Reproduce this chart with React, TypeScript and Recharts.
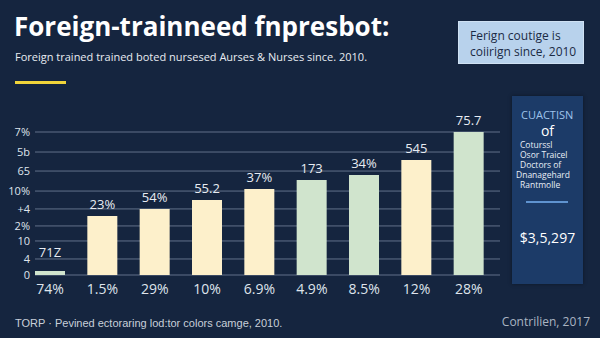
import { BarChart, Bar, XAxis, YAxis, CartesianGrid, LabelList, Cell } from "recharts"

// categories along the bottom
const categories = ["74%", "1.5%", "29%", "10%", "6.9%", "4.9%", "8.5%", "12%", "28%"]
// bar heights (0-100 scale) and the text printed above each bar
const values = [2.8, 41.3, 46.2, 52.4, 60.1, 66.4, 69.9, 80.4, 100]
const barLabels = ["71Z", "23%", "54%", "55.2", "37%", "173", "34%", "545", "75.7"]
const barKinds = ["green", "cream", "cream", "cream", "cream", "green", "green", "cream", "green"]

// y ticks and their printed labels
const yTicks = [0, 11.2, 23.8, 34.3, 46.2, 58.7, 72.7, 86, 100]
const yTickLabels = ["0", "4", "10", "2%", "+4", "10%", "65", "5b", "7%"]

const sideLines = ["Coturssl", "Osor Traicel", "Doctors of", "Dnanagehard", "Rantmolle"]

const BG = "#15253f"
const COLORS: Record<string, string> = { green: "#d0e4cd", cream: "#fdf0cb" }

const data = categories.map((c, i) => ({ name: c, value: values[i], label: barLabels[i], kind: barKinds[i] }))

const font = "'Open Sans', 'DejaVu Sans', sans-serif"
const narrow = "'Liberation Sans Narrow', 'Liberation Sans', Arial, sans-serif"

const BarTopLabel = (props: any) => {
  const { x, y, width, height, index } = props
  const lift = height < 10 ? 19 : 12
  return (
    <text x={x + width / 2} y={y - lift} textAnchor="middle" dominantBaseline="central" fill="#e8ecf2" fontSize={13} fontFamily={font}>
      {barLabels[index]}
    </text>
  )
}

// grid lines start a little right of the plot edge, like the reference
const gridLine = (props: any) => (
  <line
    key={`h-${props.index}-${props.y1}`}
    x1={props.x1 + 11}
    x2={props.x2 + 5}
    y1={props.y1}
    y2={props.y2}
    stroke="#62718a"
    strokeWidth={1}
  />
)

export default function App() {
  return (
    <div style={{ position: "fixed", left: 0, top: 0, width: 600, height: 338, background: BG, overflow: "hidden", fontFamily: font }}>
      <div style={{ position: "absolute", left: 14, top: 9, color: "#ffffff", fontSize: 26, fontWeight: 700, lineHeight: "34px", whiteSpace: "nowrap" }}>
        Foreign-trainneed fnpresbot:
      </div>
      <div style={{ position: "absolute", left: 15, top: 49, color: "#e8ecf2", fontSize: 11, lineHeight: "16px", whiteSpace: "nowrap" }}>
        Foreign trained trained boted nursesed Aurses &amp; Nurses since. 2010.
      </div>
      <div style={{ position: "absolute", left: 15, top: 81, width: 51, height: 3, background: "#f0d43a" }} />

      <div style={{ position: "absolute", left: 458, top: 21, width: 126, height: 43, background: "#b8d2ec", border: "1px solid #cfe1f3", color: "#1b2b45", fontSize: 12, lineHeight: "16px", padding: "6px 0 0 11px", boxSizing: "border-box", whiteSpace: "nowrap" }}>
        <div>Ferign coutige is</div>
        <div>coiirign since, 2010</div>
      </div>

      <BarChart width={600} height={338} data={data} margin={{ top: 132, right: 105, bottom: 33, left: 0 }} style={{ position: "absolute", left: 0, top: 0 }}>
        <CartesianGrid vertical={false} horizontal={gridLine} />
        <XAxis dataKey="name" axisLine={false} tickLine={false} tickSize={0} tickMargin={9} height={30} interval={0} tick={{ fill: "#dfe4ec", fontSize: 14, fontFamily: font }} />
        <YAxis
          domain={[0, 100]}
          ticks={yTicks}
          width={24}
          axisLine={false}
          tickLine={false}
          tickSize={0}
          tickMargin={0}
          interval={0}
          tickFormatter={(v: number) => yTickLabels[yTicks.indexOf(v)] ?? ""}
          tick={{ fill: "#dfe4ec", fontSize: 11, fontFamily: font, dx: 6 }}
        />
        <Bar dataKey="value" barSize={30} isAnimationActive={false}>
          {data.map((d, i) => (
            <Cell key={i} fill={COLORS[d.kind]} />
          ))}
          <LabelList dataKey="label" content={BarTopLabel} />
        </Bar>
      </BarChart>

      <div style={{ position: "absolute", left: 512, top: 96, width: 71, height: 188, background: "#1c3b68", boxShadow: "0 0 4px rgba(0,0,0,0.4)" }}>
        <div style={{ position: "absolute", left: 9, top: 12, color: "#9fc3ec", fontSize: 11, lineHeight: "13px" }}>CUACTISN</div>
        <div style={{ position: "absolute", left: 0, width: 71, top: 27, textAlign: "center", color: "#ffffff", fontSize: 14, lineHeight: "15px" }}>of</div>
        <div style={{ position: "absolute", left: 8, top: 44, color: "#e8eef6", fontSize: 8.5, lineHeight: "10px", whiteSpace: "nowrap" }}>
          {sideLines.map((s, i) => (
            <div key={i} style={{ marginLeft: i === 3 ? -4 : 0 }}>{s}</div>
          ))}
        </div>
        <div style={{ position: "absolute", left: 14, top: 105, width: 42, height: 2, background: "#5f93d0" }} />
        <div style={{ position: "absolute", left: 0, width: 71, top: 133, textAlign: "center", color: "#ffffff", fontSize: 14, lineHeight: "18px" }}>$3,5,297</div>
      </div>

      <div style={{ position: "absolute", left: 15, top: 316, color: "#c8cfd9", fontSize: 11, lineHeight: "14px", whiteSpace: "nowrap", fontFamily: narrow }}>
        TORP · Pevined ectoraring lod:tor colors camge, 2010.
      </div>
      <div style={{ position: "absolute", right: 10, top: 314, color: "#aab4c2", fontSize: 12, lineHeight: "16px", whiteSpace: "nowrap" }}>
        Contrilien, 2017
      </div>
    </div>
  )
}
